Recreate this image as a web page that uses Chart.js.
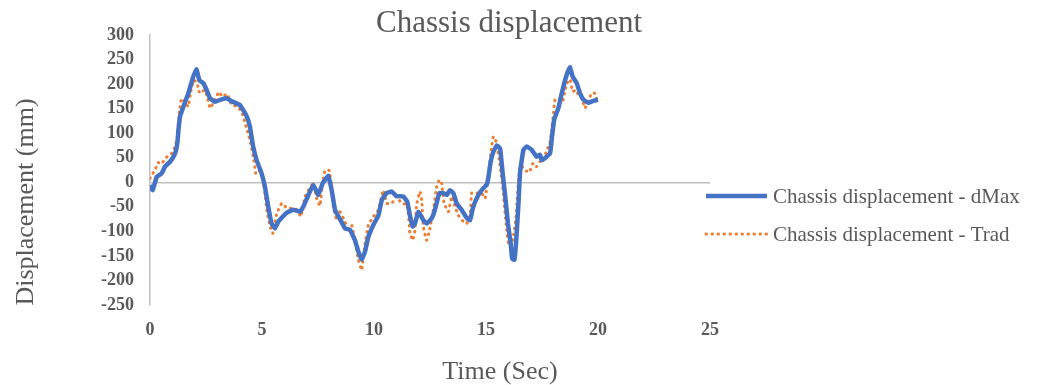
<!DOCTYPE html>
<html>
<head>
<meta charset="utf-8">
<title>Chassis displacement</title>
<script src="https://cdn.jsdelivr.net/npm/chart.js@4.4.1/dist/chart.umd.min.js"></script>
<style>
    html, body { margin: 0; padding: 0; background: #ffffff; }
    #wrap { width: 1043px; height: 385px; }
</style>
</head>
<body>
<div id="wrap"><canvas id="chassis" width="1043" height="385"></canvas></div>
<script>
// dMax run: time (s) and displacement (mm)
const timeDmax = [0, 0.12, 0.3, 0.52, 0.67, 0.9, 1.12, 1.22, 1.27, 1.34, 1.49, 1.71, 1.93, 2.08, 2.2, 2.38, 2.53, 2.68, 2.9, 3.2, 3.42, 3.65, 4.02, 4.32, 4.46, 4.61, 4.76, 4.98, 5.13, 5.28, 5.43, 5.58, 5.73, 6.1, 6.4, 6.7, 6.84, 7.07, 7.29, 7.51, 7.71, 7.96, 8.11, 8.26, 8.48, 8.71, 8.93, 9.15, 9.3, 9.45, 9.6, 9.75, 9.97, 10.2, 10.35, 10.57, 10.79, 11.0, 11.31, 11.49, 11.6, 11.73, 11.83, 11.98, 12.2, 12.35, 12.58, 12.72, 12.92, 13.1, 13.25, 13.39, 13.54, 13.69, 13.91, 14.14, 14.29, 14.43, 14.66, 14.88, 15.03, 15.1, 15.21, 15.33, 15.48, 15.63, 15.74, 15.85, 15.98, 16.1, 16.17, 16.27, 16.35, 16.45, 16.52, 16.67, 16.82, 17.04, 17.26, 17.41, 17.49, 17.63, 17.86, 17.93, 18.04, 18.23, 18.38, 18.53, 18.65, 18.75, 18.87, 19.05, 19.2, 19.35, 19.57, 19.79, 20.0];
const dMax = [-6, -16, 11, 18, 32, 42, 59, 79, 106, 134, 154, 181, 215, 230, 208, 202, 188, 171, 164, 169, 171, 165, 157, 134, 113, 72, 45, 18, -9, -50, -84, -94, -80, -62, -56, -60, -50, -26, -5, -26, -2, 13, -16, -56, -75, -94, -97, -118, -141, -158, -141, -111, -87, -67, -36, -22, -19, -28, -29, -40, -67, -90, -84, -60, -77, -84, -73, -56, -22, -22, -26, -16, -22, -43, -56, -73, -77, -50, -26, -12, -5, 8, 42, 62, 75, 69, 20, -25, -84, -124, -156, -158, -118, -43, 20, 66, 73, 66, 52, 56, 45, 49, 59, 86, 127, 151, 181, 208, 225, 234, 215, 202, 181, 168, 162, 166, 168];

// traditional run
const timeTrad = [0, 0.22, 0.37, 0.52, 0.67, 0.77, 0.97, 1.12, 1.22, 1.31, 1.41, 1.56, 1.71, 1.82, 1.96, 2.11, 2.19, 2.31, 2.41, 2.53, 2.68, 2.9, 3.08, 3.24, 3.45, 3.65, 3.87, 4.09, 4.29, 4.46, 4.61, 4.73, 4.91, 5.03, 5.13, 5.21, 5.36, 5.48, 5.66, 5.88, 6.1, 6.33, 6.55, 6.74, 6.92, 7.07, 7.29, 7.44, 7.59, 7.71, 7.81, 8.0, 8.11, 8.18, 8.33, 8.48, 8.63, 8.85, 9.0, 9.15, 9.3, 9.45, 9.6, 9.75, 9.97, 10.2, 10.35, 10.42, 10.57, 10.79, 11.0, 11.23, 11.49, 11.6, 11.73, 11.83, 11.9, 12.05, 12.13, 12.2, 12.35, 12.47, 12.65, 12.8, 12.92, 13.02, 13.13, 13.32, 13.47, 13.62, 13.76, 13.99, 14.14, 14.29, 14.36, 14.58, 14.81, 14.96, 15.1, 15.25, 15.33, 15.47, 15.63, 15.77, 15.85, 15.92, 16.0, 16.1, 16.22, 16.34, 16.45, 16.56, 16.74, 16.93, 17.1, 17.26, 17.41, 17.56, 17.71, 17.83, 17.93, 18.01, 18.08, 18.23, 18.42, 18.53, 18.63, 18.75, 18.87, 19.02, 19.12, 19.27, 19.42, 19.52, 19.72, 19.87, 19.94];
const trad = [8, 25, 40, 37, 49, 52, 59, 73, 93, 144, 171, 164, 154, 185, 208, 202, 185, 181, 188, 178, 151, 168, 184, 174, 180, 157, 155, 144, 113, 86, 52, 17, 25, 11, -22, -56, -90, -104, -63, -43, -52, -53, -56, -70, -29, -16, -2, -33, -48, 1, 24, 24, -9, -50, -77, -60, -73, -94, -87, -118, -158, -179, -124, -87, -70, -56, -26, -16, -43, -43, -29, -43, -46, -104, -118, -97, -46, -19, -36, -90, -118, -100, -56, -9, 5, -2, -43, -60, -29, -50, -67, -80, -84, -67, -22, -22, -22, -33, 11, 72, 93, 81, 32, -22, -63, -97, -124, -131, -111, -70, 5, 35, 25, 20, 39, 32, 42, 42, 66, 76, 106, 140, 168, 171, 164, 188, 203, 210, 185, 188, 178, 171, 151, 161, 182, 181, 171];

const seriesNames = ["Chassis displacement - dMax", "Chassis displacement - Trad"];
const xTicks = [0, 5, 10, 15, 20, 25];
const yTicks = [300, 250, 200, 150, 100, 50, 0, -50, -100, -150, -200, -250];

const textGray = "#595959";
const serif = "'Liberation Serif', 'Times New Roman', serif";

function toPoints(xs, ys) {
    return xs.map((x, i) => ({ x: x, y: ys[i] }));
}

// titles and legend are laid out by hand, the same way the workbook placed them
const chartText = {
    id: "chartText",
    afterDraw(chart) {
        const ctx = chart.ctx;
        ctx.save();
        ctx.fillStyle = textGray;
        ctx.textAlign = "center";
        ctx.textBaseline = "alphabetic";
        ctx.font = "31px " + serif;
        ctx.fillText("Chassis displacement", 509, 32);

        ctx.textBaseline = "middle";
        ctx.font = "26px " + serif;
        ctx.fillText("Time (Sec)", 500, 372);

        ctx.save();
        ctx.translate(26, 202);
        ctx.rotate(-Math.PI / 2);
        ctx.fillText("Displacement (mm)", 0, 0);
        ctx.restore();

        // legend
        const rows = [196, 234];
        chart.data.datasets.forEach((ds, i) => {
            const y = rows[i];
            ctx.beginPath();
            ctx.strokeStyle = ds.borderColor;
            ctx.lineWidth = ds.borderWidth;
            ctx.lineCap = ds.borderCapStyle || "butt";
            ctx.setLineDash(ds.borderDash || []);
            ctx.moveTo(706, y);
            ctx.lineTo(767, y);
            ctx.stroke();
            ctx.setLineDash([]);
            ctx.fillStyle = textGray;
            ctx.textAlign = "left";
            ctx.font = "21px " + serif;
            ctx.fillText(ds.label, 773, y + 1);
        });
        ctx.restore();
    },
};

new Chart(document.getElementById("chassis"), {
    type: "scatter",
    data: {
        datasets: [
            {
                label: seriesNames[0],
                data: toPoints(timeDmax, dMax),
                showLine: true,
                borderColor: "#4472C4",
                borderWidth: 4.5,
                pointRadius: 0,
                borderJoinStyle: "round",
                tension: 0.1,
            },
            {
                label: seriesNames[1],
                data: toPoints(timeTrad, trad),
                showLine: true,
                borderColor: "#ED7D31",
                borderWidth: 3,
                borderDash: [0.5, 5.5],
                borderCapStyle: "round",
                pointRadius: 0,
                tension: 0.1,
            },
        ],
    },
    options: {
        responsive: false,
        animation: false,
        layout: { padding: { top: 35, right: 333, left: 0, bottom: 0 } },
        plugins: {
            legend: { display: false },
            tooltip: { enabled: false },
        },
        scales: {
            x: {
                type: "linear",
                min: 0,
                max: 25,
                afterBuildTicks: (scale) => {
                    scale.ticks = xTicks.map((v) => ({ value: v }));
                },
                afterFit: (scale) => {
                    scale.height = 80;
                },
                grid: { display: false, drawTicks: false },
                border: { display: false },
                ticks: {
                    autoSkip: false,
                    maxRotation: 0,
                    padding: 15,
                    color: textGray,
                    font: { family: serif, size: 18, weight: "bold" },
                },
            },
            y: {
                type: "linear",
                min: -250,
                max: 300,
                afterBuildTicks: (scale) => {
                    scale.ticks = yTicks.map((v) => ({ value: v }));
                },
                afterFit: (scale) => {
                    scale.width = 150;
                },
                grid: {
                    drawTicks: false,
                    lineWidth: 1.5,
                    color: (c) => (c.tick && c.tick.value === 0 ? "#BFBFBF" : "rgba(0,0,0,0)"),
                },
                border: { display: true, color: "#BFBFBF", width: 1.5 },
                ticks: {
                    autoSkip: false,
                    padding: 16,
                    color: textGray,
                    font: { family: serif, size: 18, weight: "bold" },
                },
            },
        },
    },
    plugins: [chartText],
});
</script>
</body>
</html>
